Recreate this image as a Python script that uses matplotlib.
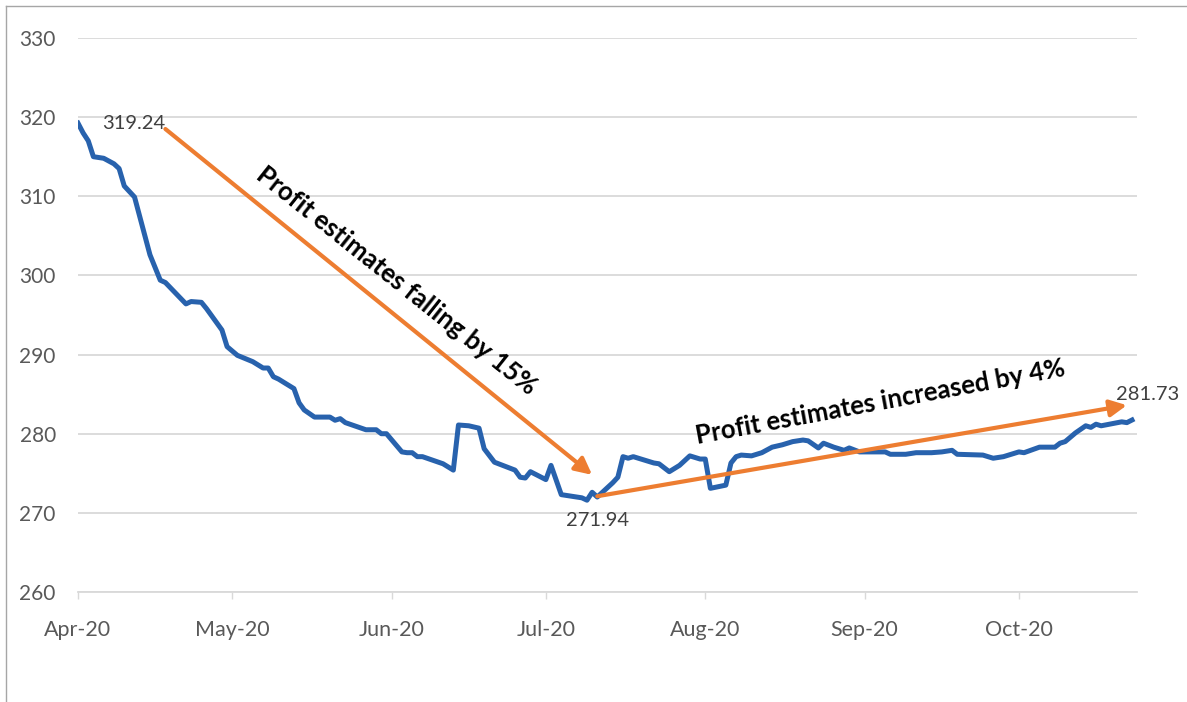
import matplotlib
matplotlib.use('Agg')
import matplotlib.pyplot as plt
import matplotlib.dates as mdates
import numpy as np
from matplotlib.lines import Line2D

plt.rcParams['font.family'] = ['Lato', 'DejaVu Sans']

# estimated profit index values
dates = ['2020-04-01', '2020-04-02', '2020-04-03', '2020-04-04', '2020-04-06',
         '2020-04-08', '2020-04-09', '2020-04-10', '2020-04-12', '2020-04-15',
         '2020-04-17', '2020-04-18', '2020-04-22', '2020-04-23', '2020-04-25',
         '2020-04-26', '2020-04-29', '2020-04-30', '2020-05-02', '2020-05-05',
         '2020-05-07', '2020-05-08', '2020-05-09', '2020-05-10', '2020-05-13',
         '2020-05-14', '2020-05-15', '2020-05-17', '2020-05-20', '2020-05-21',
         '2020-05-22', '2020-05-23', '2020-05-27', '2020-05-29', '2020-05-30',
         '2020-05-31', '2020-06-03', '2020-06-04', '2020-06-05', '2020-06-06',
         '2020-06-07', '2020-06-11', '2020-06-13', '2020-06-14', '2020-06-16',
         '2020-06-18', '2020-06-19', '2020-06-21', '2020-06-25', '2020-06-26',
         '2020-06-27', '2020-06-28', '2020-07-01', '2020-07-02', '2020-07-04',
         '2020-07-08', '2020-07-09', '2020-07-10', '2020-07-11', '2020-07-14',
         '2020-07-15', '2020-07-16', '2020-07-17', '2020-07-18', '2020-07-22',
         '2020-07-23', '2020-07-25', '2020-07-27', '2020-07-29', '2020-07-31',
         '2020-08-01', '2020-08-02', '2020-08-05', '2020-08-06', '2020-08-07',
         '2020-08-08', '2020-08-10', '2020-08-12', '2020-08-14', '2020-08-16',
         '2020-08-18', '2020-08-20', '2020-08-21', '2020-08-23', '2020-08-24',
         '2020-08-26', '2020-08-28', '2020-08-29', '2020-08-31', '2020-09-05',
         '2020-09-06', '2020-09-09', '2020-09-11', '2020-09-14', '2020-09-16',
         '2020-09-18', '2020-09-19', '2020-09-24', '2020-09-26', '2020-09-28',
         '2020-10-01', '2020-10-02', '2020-10-05', '2020-10-08', '2020-10-09',
         '2020-10-10', '2020-10-12', '2020-10-14', '2020-10-15', '2020-10-16',
         '2020-10-17', '2020-10-21', '2020-10-22', '2020-10-23']
values = [319.24, 318.0, 317.0, 315.0, 314.8, 314.1, 313.5, 311.3, 309.9, 302.6,
          299.4, 299.1, 296.4, 296.7, 296.6, 295.8, 293.1, 291.0, 289.9, 289.1,
          288.3, 288.3, 287.2, 286.9, 285.7, 283.9, 283.0, 282.1, 282.1, 281.7,
          281.9, 281.4, 280.5, 280.5, 280.0, 280.0, 277.7, 277.6, 277.6, 277.1,
          277.1, 276.2, 275.4, 281.1, 281.0, 280.7, 278.1, 276.4, 275.4, 274.5,
          274.4, 275.2, 274.2, 276.0, 272.3, 271.9, 271.6, 272.6, 272.0, 273.8,
          274.5, 277.1, 276.9, 277.1, 276.3, 276.2, 275.2, 276.0, 277.2, 276.8,
          276.8, 273.1, 273.5, 276.3, 277.1, 277.3, 277.2, 277.6, 278.3, 278.6,
          279.0, 279.2, 279.1, 278.2, 278.8, 278.3, 277.9, 278.2, 277.7, 277.7,
          277.4, 277.4, 277.6, 277.6, 277.7, 277.9, 277.4, 277.3, 276.9, 277.1,
          277.7, 277.6, 278.3, 278.3, 278.8, 279.0, 280.1, 281.0, 280.8, 281.2,
          281.0, 281.5, 281.4, 281.73]

month_ticks = ['2020-04-01', '2020-05-01', '2020-06-01', '2020-07-01',
               '2020-08-01', '2020-09-01', '2020-10-01']

# trend arrows: (start date, start value) -> (end date, end value)
fall_arrow = (('2020-04-18', 318.5), ('2020-07-10', 274.8))
rise_arrow = (('2020-07-11', 272.1), ('2020-10-22', 283.6))

d = np.array(dates, dtype='datetime64[D]')
blue = '#2862ad'
orange = '#ed7d31'
grey = '#595959'

fig = plt.figure(figsize=(11.87, 7.02), dpi=100)
ax = fig.add_axes([0.0657, 0.1567, 0.8923, 0.7892])

ax.plot(d, values, color=blue, lw=3.6, solid_joinstyle='round', zorder=3)

ax.set_ylim(260, 330)
ax.set_yticks(np.arange(260, 331, 10))
ax.set_xlim(np.datetime64('2020-04-01'), np.datetime64('2020-10-24'))
ax.set_xticks(np.array(month_ticks, dtype='datetime64[D]'))
ax.xaxis.set_major_formatter(mdates.DateFormatter('%b-%y'))

ax.grid(axis='y', color='#d9d9d9', lw=1.3)
ax.set_axisbelow(True)
for s in ['top', 'right', 'left']:
    ax.spines[s].set_visible(False)
ax.spines['bottom'].set_color('#d9d9d9')
ax.spines['bottom'].set_linewidth(1.3)
ax.tick_params(axis='y', length=0, pad=16, labelsize=15, labelcolor=grey)
ax.tick_params(axis='x', length=5, width=1, color='#d9d9d9', pad=15,
               labelsize=15.5, labelcolor=grey)

for (x0, y0), (x1, y1) in [fall_arrow, rise_arrow]:
    ax.annotate('', xy=(np.datetime64(x1), y1), xytext=(np.datetime64(x0), y0),
                arrowprops=dict(arrowstyle='-|>', color=orange, lw=3,
                                mutation_scale=25, shrinkA=0, shrinkB=0),
                zorder=4)

ax.text(np.datetime64('2020-04-18'), 319.2, '319.24', ha='right', va='center',
        fontsize=14.5, color='#404040')
ax.text(np.datetime64('2020-07-11'), 269.0, '271.94', ha='center', va='center',
        fontsize=14.5, color='#404040')
ax.text(np.datetime64('2020-10-26'), 285.0, '281.73', ha='center', va='center',
        fontsize=14.5, color='#404040', clip_on=False)

ax.text(np.datetime64('2020-06-02'), 299.4, 'Profit estimates falling by 15%',
        rotation=-38.5, ha='center', va='center', fontsize=18.5,
        fontweight='bold', color='black', rotation_mode='anchor')
ax.text(np.datetime64('2020-09-04'), 284.0, 'Profit estimates increased by 4%',
        rotation=10.5, ha='center', va='center', fontsize=18.5,
        fontweight='bold', color='black', rotation_mode='anchor')

# chart frame (left and top edges visible)
fig.add_artist(Line2D([6 / 1187, 6 / 1187], [0, 1 - 6 / 702], color='#a6a6a6', lw=1))
fig.add_artist(Line2D([6 / 1187, 1], [1 - 6 / 702, 1 - 6 / 702], color='#a6a6a6', lw=1))

fig.savefig('out.png', dpi=100)
